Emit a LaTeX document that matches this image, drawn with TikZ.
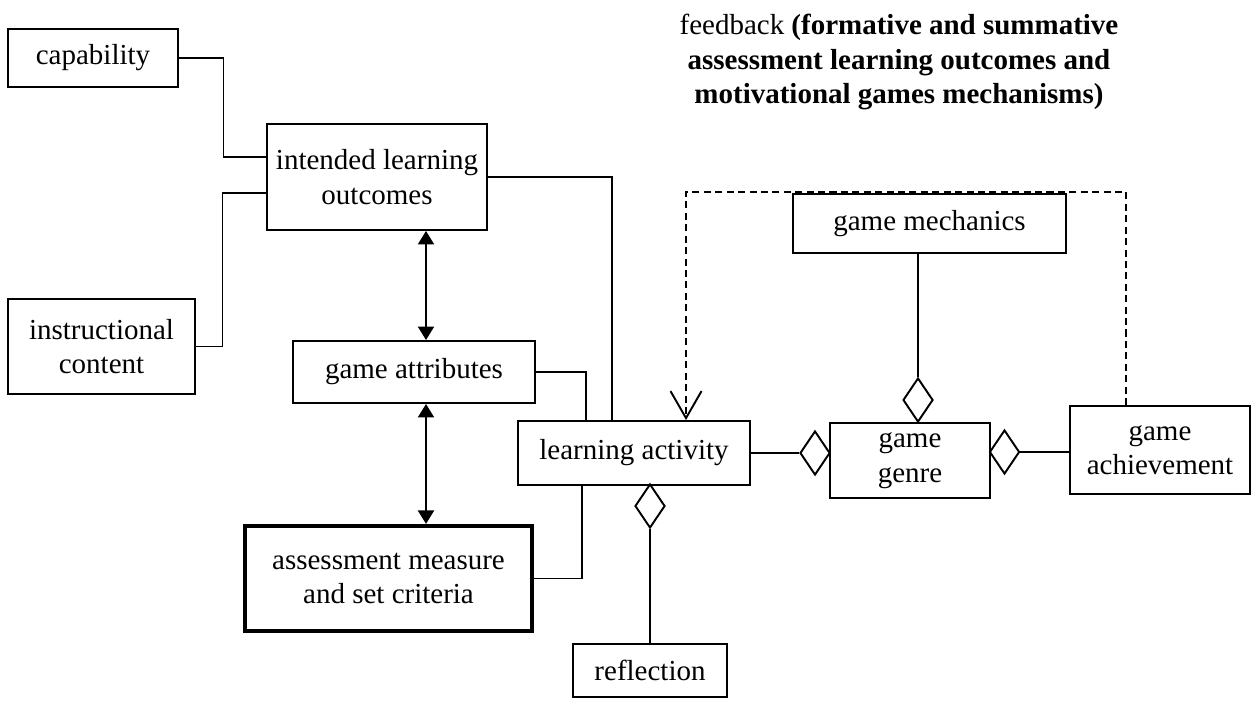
\documentclass[tikz,border=0pt]{standalone}
\usepackage{fontspec}
\setmainfont{Liberation Serif}
\usetikzlibrary{arrows.meta, calc, shapes.geometric}
\tikzset{
  box/.style={draw, line width=1.1pt, align=center, inner sep=.25ex},
  conn/.style={line width=0.6pt},
  diam/.style={draw, diamond, line width=1.1pt, minimum width=0.6cm, minimum height=0.88cm, inner sep=0pt, fill=white},
  dbl/.style={line width=1.2pt, {Triangle[length=0.27cm, width=0.32cm]}-{Triangle[length=0.27cm, width=0.32cm]}},
  fbline/.style={line width=1.1pt, dash pattern=on 4pt off 2.5pt, -{Straight Barb[length=0.54cm, width=0.62cm, line width=1.1pt]}}
}

\begin{document}
\begin{tikzpicture}[x=0.02cm, y=-0.02cm, font=\fontsize{16.5}{19.6}\selectfont]
  \useasboundingbox (0,0) rectangle (1260,706);
  % left column
  \node[box, minimum width=3.4cm, minimum height=1.16cm] (cap) at (93,58) {capability};
  \node[box, minimum width=3.74cm, minimum height=1.9cm] (ic) at (101.5,346.5) {instructional\\content};
  \node[box, minimum width=4.4cm, minimum height=2.12cm] (ilo) at (377,177) {intended learning\\outcomes};
  \node[box, minimum width=4.84cm, minimum height=1.24cm] (ga) at (414,372) {game attributes};
  \node[box, line width=2.4pt, minimum width=5.74cm, minimum height=2.1cm] (am) at (388.5,578.5) {assessment measure\\and set criteria};
  % middle and right
  \node[box, minimum width=4.64cm, minimum height=1.28cm] (la) at (634,453) {learning activity};
  \node[box, minimum width=3.08cm, minimum height=1.06cm] (refl) at (650,670.5) {reflection};
  \node[box, minimum width=5.46cm, minimum height=1.18cm] (gm) at (929.5,223.5) {game mechanics};
  \node[box, minimum width=3.2cm, minimum height=1.5cm] (gg) at (910,460.5) {game\\genre};
  \node[box, minimum width=3.6cm, minimum height=1.76cm] (gach) at (1160,450) {game\\achievement};
  \node[align=center] (fb) at (899,62) {feedback \textbf{(formative and summative}\\\textbf{assessment learning outcomes and}\\\textbf{motivational games mechanisms)}};
  % diamonds
  \node[diam] (d1) at (815,453) {};
  \node[diam] (d2) at (1004.5,452) {};
  \node[diam] (d3) at (918,400) {};
  \node[diam] (d4) at (650,506) {};

  \draw[conn] (cap.east) -- ++(45,0) |- ($(ilo.west)+(0,-20)$);
  \draw[conn] (ic.east) -- ++(27,0) |- ($(ilo.west)+(0,16)$);
  \draw[conn] (ilo.east) -| ($(la.north)+(-22,0)$);
  \draw[conn] (ga.east) -| ($(la.north)+(-48,0)$);
  \draw[conn] ($(la.south)+(-52,0)$) |- (am.east);
  \draw[conn] (d3.north |- gm.south) -- (d3.north);
  \draw[conn] (la.east) -- (d1.west);
  \draw[conn] (d2.east) -- (d2.east -| gach.west);
  \draw[conn] (d4.south) -- (d4.south |- refl.north);

  \coordinate (ax) at (426,0);
  \draw[dbl] (ilo.south -| ax) -- (ga.north -| ax);
  \draw[dbl] (ga.south -| ax) -- (am.north -| ax);

  \draw[fbline] ($(gach.north)+(-34,0)$) -- ++(0,-213) -| ($(la.north)+(52,0)$);
\end{tikzpicture}
\end{document}
